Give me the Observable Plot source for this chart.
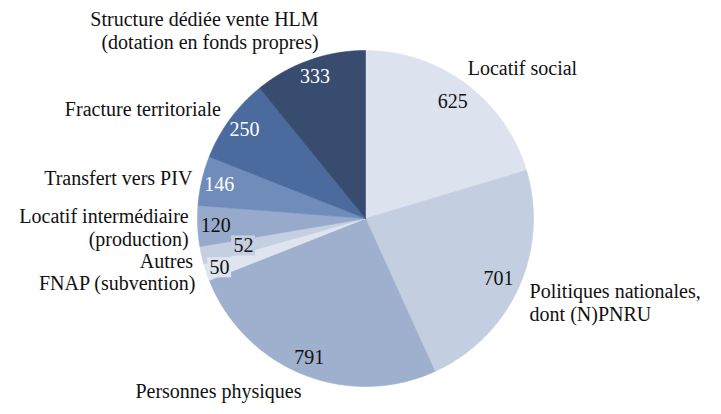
<!DOCTYPE html>
<html>
<head>
<meta charset="utf-8">
<script src="https://cdn.jsdelivr.net/npm/d3@7"></script>
<script src="https://cdn.jsdelivr.net/npm/@observablehq/plot@0.6"></script>
<style>
  html, body { margin: 0; padding: 0; background: #ffffff; font-family: "Liberation Serif", serif; }
  #chart { position: relative; width: 721px; height: 414px; }
  #chart svg text { font-family: "Liberation Serif", serif; }
</style>
</head>
<body>
<div id="chart"></div>
<svg width="0" height="0" style="position:absolute;left:0;top:0" aria-hidden="true"></svg>
<script>
// ---- Data ----
const categories = [
  "Locatif social",
  "Politiques nationales,\ndont (N)PNRU",
  "Personnes physiques",
  "FNAP (subvention)",
  "Autres",
  "Locatif intermédiaire\n(production)",
  "Transfert vers PIV",
  "Fracture territoriale",
  "Structure dédiée vente HLM\n(dotation en fonds propres)"
];
const values = [625, 701, 791, 50, 52, 120, 146, 250, 333];

// ---- Style / layout ----
const colors = ["#dde3ee", "#c3cee0", "#9eb0cd", "#dfe5ef", "#c4cfe1", "#97aacb", "#6f8cbb", "#4b6b9e", "#374c6f"];
const valueTextColors = ["#111", "#111", "#111", "#111", "#111", "#111", "#fff", "#fff", "#fff"];
const W = 721, H = 414;
const CX = 365, CY = 218;          // pie centre in pixels
const R = 168;                      // pie radius
const valueR = [146, 146, 150, 154, 125, 150, 150, 150, 151];
const labelR = 188;
// per-label nudges in pixels [dx, dy(down), anchor]
const labelNudge = [
  [-10, 0, "start"], [-7, 5.6, "start"], [-76.6, -2, "middle"],
  [8, 4, "end"], [11, 1, "end"], [11, 0, "end"],
  [10, 1.5, "end"], [7, 1, "end"], [16, -11, "end"]
];
const boxed = [3, 4];
const FONT = "Liberation Serif";
const FS = 20;

// ---- Geometry from data ----
const arcs = d3.pie().sort(null).value(d => d.value).startAngle(0).endAngle(2 * Math.PI)(
  categories.map((c, i) => ({ key: c, value: values[i], i }))
);
const polar = (a, r) => ({ x: r * Math.sin(a), y: r * Math.cos(a) });

const slicePts = [];
arcs.forEach(a => {
  const k = a.data.key;
  slicePts.push({ key: k, x: 0, y: 0 });
  const n = Math.max(2, Math.ceil((a.endAngle - a.startAngle) / (Math.PI / 360)));
  for (let j = 0; j <= n; j++) {
    const t = a.startAngle + (a.endAngle - a.startAngle) * j / n;
    const p = polar(t, R);
    slicePts.push({ key: k, x: p.x, y: p.y });
  }
  slicePts.push({ key: k, x: 0, y: 0 });
});

const valueLabels = arcs.map(a => {
  const i = a.data.i;
  const m = (a.startAngle + a.endAngle) / 2;
  const p = polar(m, valueR[i]);
  return { i, text: String(a.data.value), x: p.x, y: p.y, color: valueTextColors[i] };
});
const boxes = valueLabels.filter(d => boxed.includes(d.i)).map(d => {
  const hw = d.text.length * FS * 0.25 + 2, hh = 10;
  return { i: d.i, x1: d.x - hw, x2: d.x + hw, y1: d.y - hh, y2: d.y + hh, fill: colors[d.i] };
});

const catLabels = arcs.map(a => {
  const i = a.data.i;
  const m = (a.startAngle + a.endAngle) / 2;
  const p = polar(m, labelR);
  const [dx, dy, anchor] = labelNudge[i];
  return { text: a.data.key, x: p.x + dx, y: p.y - dy, anchor };
});

const textMarks = ["start", "middle", "end"].map(anc =>
  Plot.text(catLabels.filter(d => d.anchor === anc), {
    x: "x", y: "y", text: "text", textAnchor: anc, lineAnchor: "middle",
    lineHeight: 1.15, fontSize: FS, fill: "#111", fontFamily: FONT
  })
);

const chart = Plot.plot({
  width: W, height: H,
  margin: 0,
  x: { domain: [-CX, W - CX], axis: null },
  y: { domain: [CY - H, CY], axis: null },
  color: { domain: categories, range: colors },
  marks: [
    Plot.line(slicePts, {
      x: "x", y: "y", z: "key", fill: "key", stroke: "key",
      strokeWidth: 0.6, curve: "linear"
    }),
    Plot.rect(boxes, { x1: "x1", x2: "x2", y1: "y1", y2: "y2", fill: "fill" }),
    Plot.text(valueLabels, {
      x: "x", y: "y", text: "text", fill: "color", fontSize: FS,
      lineAnchor: "middle", fontFamily: FONT
    }),
    ...textMarks
  ]
});
document.getElementById("chart").appendChild(chart);
</script>
</body>
</html>
